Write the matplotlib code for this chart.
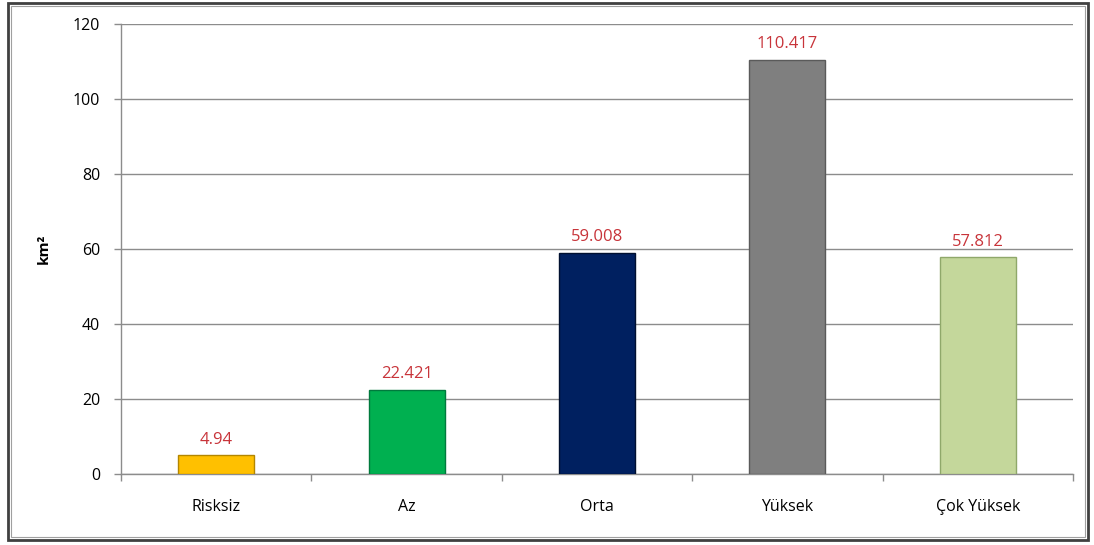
import matplotlib
matplotlib.use("Agg")
import matplotlib.pyplot as plt
from matplotlib.patches import Rectangle

categories = ["Risksiz", "Az", "Orta", "Yüksek", "Çok Yüksek"]
values = [4.94, 22.421, 59.008, 110.417, 57.812]
value_labels = ["4.94", "22.421", "59.008", "110.417", "57.812"]
bar_colors = ["#FFC000", "#00B050", "#002060", "#7F7F7F", "#C4D79B"]
edge_colors = ["#B38600", "#007A3D", "#001030", "#5A5A5A", "#8FA86A"]
y_ticks = [0, 20, 40, 60, 80, 100, 120]

plt.rcParams["font.family"] = ["Open Sans", "DejaVu Sans"]

fig = plt.figure(figsize=(10.94, 5.45), dpi=100)
ax = fig.add_axes([0.1106, 0.1303, 0.8702, 0.8257])

x = list(range(len(categories)))
ax.bar(x, values, width=0.4, color=bar_colors, edgecolor=edge_colors,
       linewidth=1.0, zorder=3)

for xi, v, lab in zip(x, values, value_labels):
    ax.text(xi, v + 2.0, lab, ha="center", va="bottom", color="#C8343A",
            fontsize=12, zorder=4)

ax.set_xlim(-0.5, len(categories) - 0.5)
ax.set_ylim(0, 120)
ax.set_yticks(y_ticks)
ax.set_yticklabels([str(t) for t in y_ticks], fontsize=11.5)
ax.yaxis.grid(True, color="#8C8C8C", linewidth=1.0, zorder=0)
ax.set_axisbelow(True)

ax.set_xticks(x)
ax.set_xticklabels(categories, fontsize=11.5)
ax.set_xticks([i - 0.5 for i in range(len(categories) + 1)], minor=True)
ax.tick_params(axis="x", which="major", length=0, pad=18)
ax.tick_params(axis="x", which="minor", length=5, color="#8C8C8C", width=1.0)
ax.tick_params(axis="y", length=5, color="#8C8C8C", width=1.0, pad=10)

for side in ["top", "right"]:
    ax.spines[side].set_visible(False)
for side in ["left", "bottom"]:
    ax.spines[side].set_color("#8C8C8C")
    ax.spines[side].set_linewidth(1.0)

ax.set_ylabel("km²", fontsize=11, fontweight="bold", labelpad=16)

# double frame around the whole chart
fig.patches.append(Rectangle((8 / 1094, 5 / 545), 1080 / 1094, 537 / 545,
                             transform=fig.transFigure, fill=False,
                             edgecolor="#404040", linewidth=2.0))
fig.patches.append(Rectangle((11 / 1094, 8 / 545), 1074 / 1094, 531 / 545,
                             transform=fig.transFigure, fill=False,
                             edgecolor="#A0A0A0", linewidth=0.8))

fig.savefig("out.png", dpi=100)
